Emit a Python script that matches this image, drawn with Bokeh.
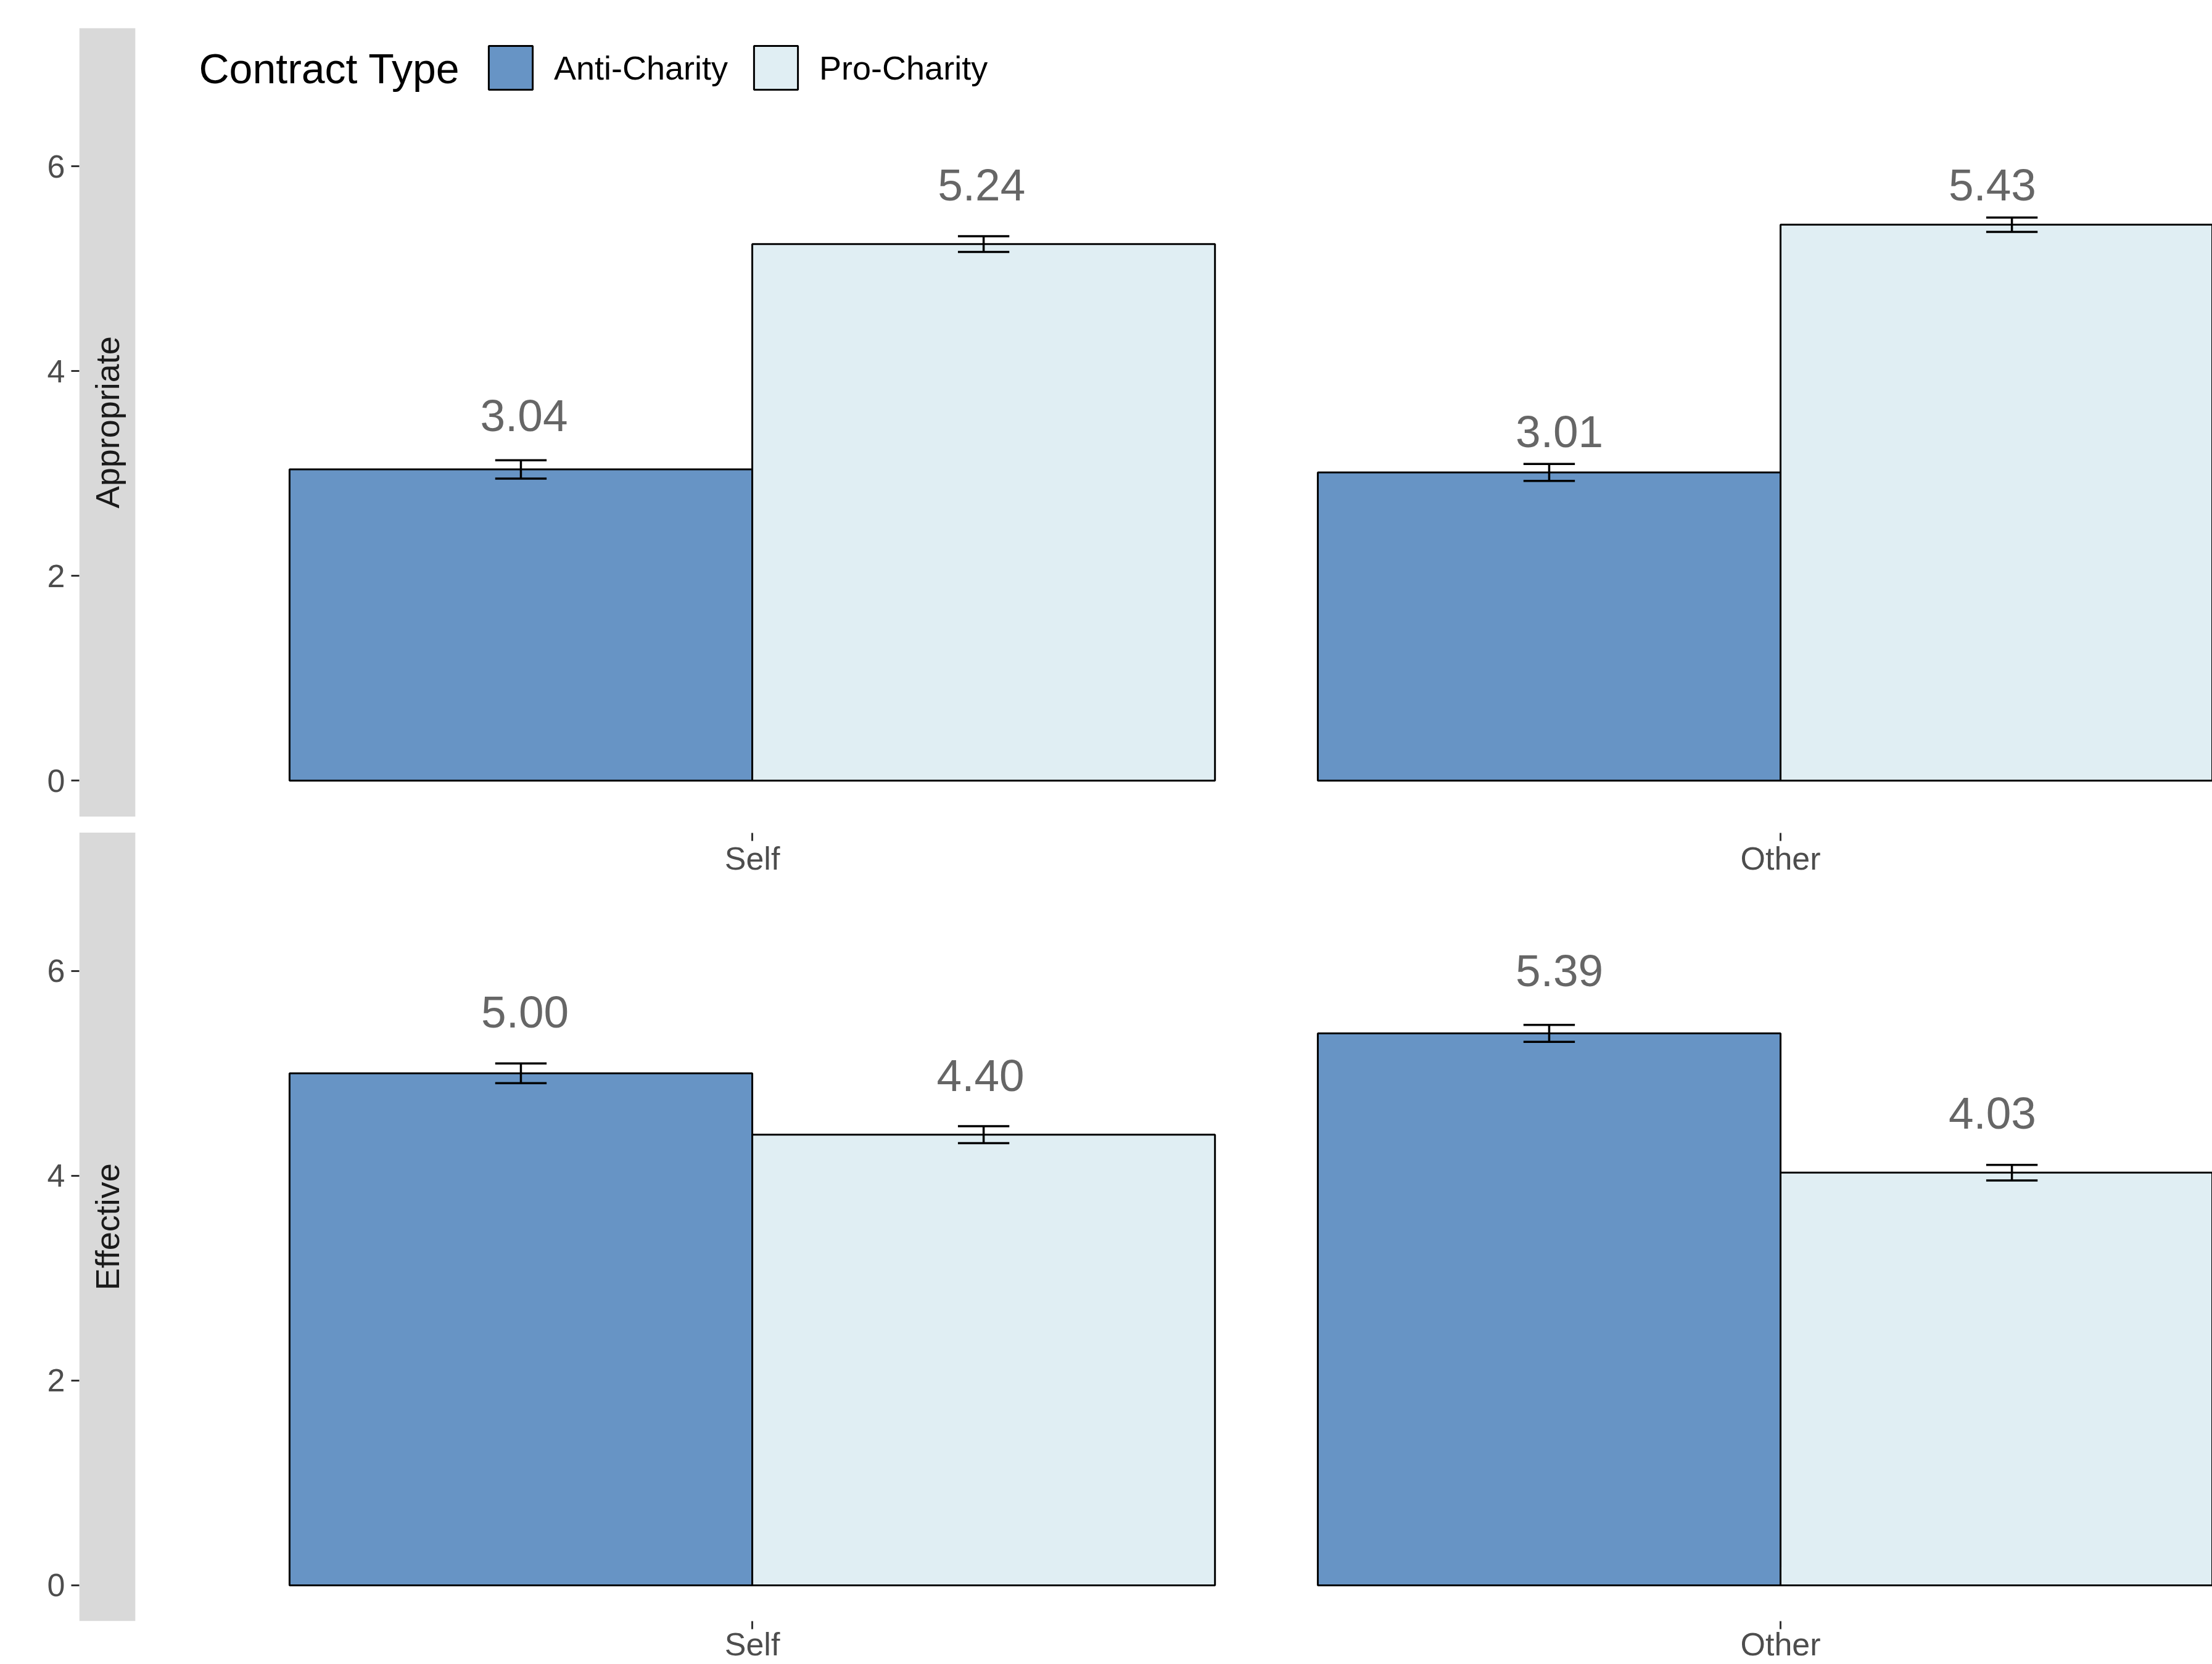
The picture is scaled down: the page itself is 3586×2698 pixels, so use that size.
import numpy as np
from bokeh.plotting import figure
from bokeh.models import (Range1d, LinearAxis, FixedTicker, Legend, LegendItem,
                          Label, ColumnDataSource)
from bokeh.core.properties import value
from bokeh.embed import file_html
from bokeh.resources import INLINE

# ---------------- data ----------------
categories = ["Self", "Other"]
measures = ["Appropriate", "Effective"]
contract_types = ["Anti-Charity", "Pro-Charity"]

anti_appropriate = [3.04, 3.01]
pro_appropriate = [5.24, 5.43]
anti_effective = [5.00, 5.39]
pro_effective = [4.40, 4.03]

anti_appropriate_se = [0.090, 0.083]
pro_appropriate_se = [0.077, 0.070]
anti_effective_se = [0.096, 0.083]
pro_effective_se = [0.083, 0.076]

y_tick_values = [0, 2, 4, 6]

# label placement (nudges of the label centre, data units)
anti_appropriate_ynudge = [0.525, 0.400]
pro_appropriate_ynudge = [0.580, 0.390]
anti_effective_ynudge = [0.600, 0.610]
pro_effective_ynudge = [0.580, 0.580]
anti_appropriate_xnudge = [0.003, 0.010]
pro_appropriate_xnudge = [-0.002, -0.019]
anti_effective_xnudge = [0.004, 0.010]
pro_effective_xnudge = [-0.003, -0.019]

# ---------------- styling / layout ----------------
FONT = "Liberation Sans"
ANTI_COLOR = "#6794C5"
PRO_COLOR = "#E0EEF3"
STRIP_COLOR = "#D9D9D9"
DODGE = 0.225
BAR_W = 0.45
CAP_HALF = 0.025
PANEL_LO, PANEL_HI = -0.35, 7.35
GAP = 0.157
SHIFT = PANEL_HI - PANEL_LO + GAP        # vertical offset of the upper panel
X_START, X_END = 0.3455, 2.4199
PANEL_LEFT = 0.4

W, H = 3586, 2698
BORDER_LEFT, BORDER_TOP, BORDER_BOTTOM = 128, 45, 70
p = figure(width=W, height=H,
           x_range=Range1d(X_START, X_END),
           y_range=Range1d(PANEL_LO, SHIFT + PANEL_HI),
           x_axis_type=None, y_axis_type=None,
           output_backend="svg", toolbar_location=None,
           min_border_left=BORDER_LEFT, min_border_right=0,
           min_border_top=BORDER_TOP, min_border_bottom=BORDER_BOTTOM,
           background_fill_color="white", border_fill_color="white",
           outline_line_color=None)

panel_shift = {"Appropriate": SHIFT, "Effective": 0.0}

# strips
p.quad(left=[X_START, X_START], right=[PANEL_LEFT, PANEL_LEFT],
       bottom=[panel_shift[m] + PANEL_LO for m in measures],
       top=[panel_shift[m] + PANEL_HI for m in measures],
       fill_color=STRIP_COLOR, line_color=None)
p.text(x=[(X_START + PANEL_LEFT) / 2] * 2,
       y=[panel_shift[m] + 3.5 for m in measures],
       text=measures, angle=np.pi / 2,
       text_align="center", text_baseline="middle",
       text_font=value(FONT), text_font_size=value("54px"),
       text_color="#1A1A1A")

series = [
    ("Appropriate", 0, anti_appropriate, anti_appropriate_se, anti_appropriate_xnudge, anti_appropriate_ynudge),
    ("Effective", 0, anti_effective, anti_effective_se, anti_effective_xnudge, anti_effective_ynudge),
    ("Appropriate", 1, pro_appropriate, pro_appropriate_se, pro_appropriate_xnudge, pro_appropriate_ynudge),
    ("Effective", 1, pro_effective, pro_effective_se, pro_effective_xnudge, pro_effective_ynudge),
]

bars = {0: dict(x=[], top=[], bottom=[]), 1: dict(x=[], top=[], bottom=[])}
err = dict(x=[], lo=[], hi=[])
lab = dict(x=[], y=[], text=[])
for measure, t, means, ses, xn, yn in series:
    off = panel_shift[measure]
    sign = -1 if t == 0 else 1
    for i, cat in enumerate(categories):
        xc = i + 1 + sign * DODGE
        bars[t]["x"].append(xc)
        bars[t]["top"].append(off + means[i])
        bars[t]["bottom"].append(off)
        err["x"].append(xc)
        err["lo"].append(off + means[i] - ses[i])
        err["hi"].append(off + means[i] + ses[i])
        lab["x"].append(xc + xn[i])
        lab["y"].append(off + means[i] + yn[i])
        lab["text"].append("%.2f" % means[i])

r_anti = p.vbar(x="x", top="top", bottom="bottom", width=BAR_W,
                source=ColumnDataSource(bars[0]),
                fill_color=ANTI_COLOR, line_color="black", line_width=3)
r_pro = p.vbar(x="x", top="top", bottom="bottom", width=BAR_W,
               source=ColumnDataSource(bars[1]),
               fill_color=PRO_COLOR, line_color="black", line_width=3)

ex = np.array(err["x"]); elo = np.array(err["lo"]); ehi = np.array(err["hi"])
p.segment(x0=ex, x1=ex, y0=elo, y1=ehi, line_color="black", line_width=3.5)
p.segment(x0=ex - CAP_HALF, x1=ex + CAP_HALF, y0=elo, y1=elo, line_color="black", line_width=3.5)
p.segment(x0=ex - CAP_HALF, x1=ex + CAP_HALF, y0=ehi, y1=ehi, line_color="black", line_width=3.5)

p.text(x="x", y="y", text="text", source=ColumnDataSource(lab),
       text_align="center", text_baseline="middle",
       text_font=value(FONT), text_font_size=value("73px"),
       text_color="#666666")

# y axis (both panels share one axis column)
y_ticks = []
y_over = {}
for m in measures:
    for v in y_tick_values:
        tv = panel_shift[m] + v
        y_ticks.append(tv)
        y_over[tv] = str(v)
yaxis = LinearAxis(ticker=FixedTicker(ticks=y_ticks), major_label_overrides=y_over)
yaxis.axis_line_color = None
yaxis.major_tick_in = 0
yaxis.major_tick_out = 13
yaxis.major_tick_line_color = "#333333"
yaxis.major_tick_line_width = 3
yaxis.minor_tick_line_color = None
yaxis.major_label_standoff = 10
yaxis.major_label_text_font = FONT
yaxis.major_label_text_font_size = "52px"
yaxis.major_label_text_color = "#4D4D4D"
p.add_layout(yaxis, "left")

# x axes: upper panel's axis sits at the lower panel's top edge, lower panel's axis is a normal one
x_over = {i + 1: c for i, c in enumerate(categories)}
for fixed, standoff in [(PANEL_HI, 0), (None, -5)]:
    xa = LinearAxis(ticker=FixedTicker(ticks=[i + 1 for i in range(len(categories))]),
                    major_label_overrides=x_over)
    if fixed is not None:
        xa.fixed_location = fixed
    xa.axis_line_color = None
    xa.major_tick_in = 0
    xa.major_tick_out = 13
    xa.major_tick_line_color = "#333333"
    xa.major_tick_line_width = 3
    xa.minor_tick_line_color = None
    xa.major_label_standoff = standoff
    xa.major_label_text_font = FONT
    xa.major_label_text_font_size = "52px"
    xa.major_label_text_color = "#4D4D4D"
    p.add_layout(xa, "below")

# legend
frame_bottom = H - BORDER_BOTTOM
legend = Legend(items=[LegendItem(label=contract_types[0], renderers=[r_anti]),
                       LegendItem(label=contract_types[1], renderers=[r_pro])],
                location=(655, frame_bottom - 154), orientation="horizontal",
                glyph_width=89, glyph_height=89, label_standoff=26, spacing=33,
                padding=0, margin=0, border_line_color=None,
                background_fill_alpha=0,
                label_text_font=FONT, label_text_font_size="54px",
                label_text_color="black")
p.add_layout(legend, "center")
p.add_layout(Label(x=194, y=frame_bottom - 110, x_units="screen", y_units="screen",
                   text="Contract Type", text_font=FONT, text_font_size="68px",
                   text_color="black", text_baseline="middle"))

open("out.html", "w").write(file_html(p, INLINE))
